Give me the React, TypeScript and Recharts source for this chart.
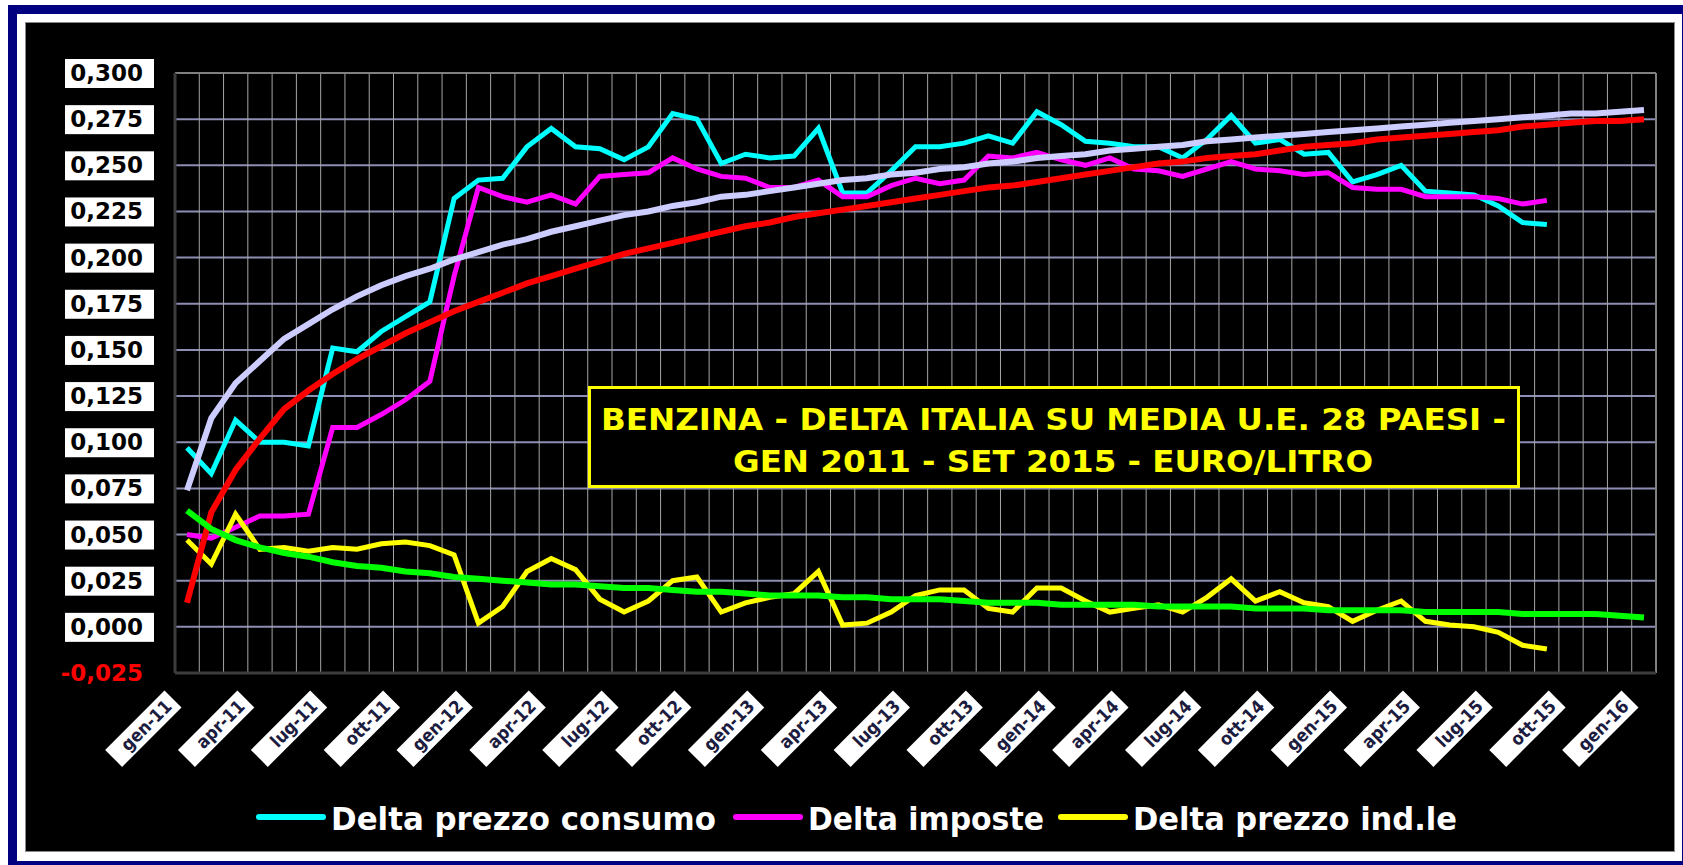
import { CartesianGrid, Line, LineChart, XAxis, YAxis } from "recharts";

// months on the category axis (gen-11 .. gen-16)
const MONTHS = ["gen", "feb", "mar", "apr", "mag", "giu", "lug", "ago", "set", "ott", "nov", "dic"];
const YEARS = ["11", "12", "13", "14", "15", "16"];

// Delta prezzo consumo, gen-11 .. set-15
const consumo = [
  0.097, 0.083, 0.112, 0.1, 0.1, 0.098, 0.151, 0.149, 0.16, 0.168, 0.176, 0.232,
  0.242, 0.243, 0.26, 0.27, 0.26, 0.259, 0.253, 0.26, 0.278, 0.275, 0.251, 0.256,
  0.254, 0.255, 0.27, 0.235, 0.235, 0.247, 0.26, 0.26, 0.262, 0.266, 0.262, 0.279,
  0.272, 0.263, 0.262, 0.26, 0.26, 0.254, 0.264, 0.277, 0.262, 0.264, 0.256, 0.257,
  0.241, 0.245, 0.25, 0.236, 0.235, 0.234, 0.228, 0.219, 0.218,
];

// Delta imposte
const imposte = [
  0.05, 0.048, 0.054, 0.06, 0.06, 0.061, 0.108, 0.108, 0.115, 0.123, 0.133, 0.19,
  0.238, 0.233, 0.23, 0.234, 0.229, 0.244, 0.245, 0.246, 0.254, 0.248, 0.244, 0.243,
  0.238, 0.238, 0.242, 0.233, 0.233, 0.239, 0.243, 0.24, 0.242, 0.255, 0.254, 0.257,
  0.253, 0.25, 0.254, 0.248, 0.247, 0.244, 0.248, 0.252, 0.248, 0.247, 0.245, 0.246,
  0.238, 0.237, 0.237, 0.233, 0.233, 0.233, 0.232, 0.229, 0.231,
];

// Delta prezzo ind.le
const industriale = [
  0.047, 0.034, 0.061, 0.042, 0.043, 0.041, 0.043, 0.042, 0.045, 0.046, 0.044, 0.039,
  0.002, 0.011, 0.03, 0.037, 0.031, 0.015, 0.008, 0.014, 0.025, 0.027, 0.008, 0.013,
  0.016, 0.018, 0.03, 0.001, 0.002, 0.008, 0.017, 0.02, 0.02, 0.01, 0.008, 0.021,
  0.021, 0.014, 0.008, 0.01, 0.012, 0.008, 0.016, 0.026, 0.014, 0.019, 0.013, 0.011,
  0.003, 0.009, 0.014, 0.003, 0.001, 0.0, -0.003, -0.01, -0.012,
];

// trend lines, gen-11 .. gen-16
const trendConsumo = [
  0.074, 0.113, 0.132, 0.144, 0.156, 0.164, 0.172, 0.179, 0.185, 0.19, 0.194, 0.199,
  0.203, 0.207, 0.21, 0.214, 0.217, 0.22, 0.223, 0.225, 0.228, 0.23, 0.233, 0.234,
  0.236, 0.238, 0.24, 0.242, 0.243, 0.245, 0.246, 0.248, 0.249, 0.251, 0.252, 0.254,
  0.255, 0.256, 0.258, 0.259, 0.26, 0.261, 0.263, 0.264, 0.265, 0.266, 0.267, 0.268,
  0.269, 0.27, 0.271, 0.272, 0.273, 0.274, 0.275, 0.276, 0.277, 0.278, 0.278, 0.279,
  0.28,
];

const trendImposte = [
  0.013, 0.062, 0.085, 0.102, 0.118, 0.128, 0.137, 0.145, 0.152, 0.159, 0.165, 0.171,
  0.176, 0.181, 0.186, 0.19, 0.194, 0.198, 0.202, 0.205, 0.208, 0.211, 0.214, 0.217,
  0.219, 0.222, 0.224, 0.226, 0.228, 0.23, 0.232, 0.234, 0.236, 0.238, 0.239, 0.241,
  0.243, 0.245, 0.247, 0.249, 0.251, 0.252, 0.254, 0.255, 0.256, 0.258, 0.26, 0.261,
  0.262, 0.264, 0.265, 0.266, 0.267, 0.268, 0.269, 0.271, 0.272, 0.273, 0.274, 0.274,
  0.275,
];

const trendIndustriale = [
  0.063, 0.053, 0.047, 0.043, 0.04, 0.038, 0.035, 0.033, 0.032, 0.03, 0.029, 0.027,
  0.026, 0.025, 0.024, 0.023, 0.023, 0.022, 0.021, 0.021, 0.02, 0.019, 0.019, 0.018,
  0.017, 0.017, 0.017, 0.016, 0.016, 0.015, 0.015, 0.015, 0.014, 0.013, 0.013, 0.013,
  0.012, 0.012, 0.012, 0.012, 0.011, 0.011, 0.011, 0.011, 0.01, 0.01, 0.01, 0.009,
  0.009, 0.009, 0.009, 0.008, 0.008, 0.008, 0.008, 0.007, 0.007, 0.007, 0.007, 0.006,
  0.005,
];

const yTicks = [
  -0.025, 0, 0.025, 0.05, 0.075, 0.1, 0.125, 0.15, 0.175, 0.2, 0.225, 0.25, 0.275, 0.3,
];

const categories = YEARS.flatMap((y) => MONTHS.map((m) => `${m}-${y}`)).slice(0, 61);

const data = categories.map((month, i) => ({
  month,
  consumo: consumo[i] ?? null,
  imposte: imposte[i] ?? null,
  industriale: industriale[i] ?? null,
  trendConsumo: trendConsumo[i],
  trendImposte: trendImposte[i],
  trendIndustriale: trendIndustriale[i],
}));

const legendItems = [
  { label: "Delta prezzo consumo", color: "#00ffff", x: 259, width: 385 },
  { label: "Delta imposte", color: "#ff00ff", x: 736, width: 236 },
  { label: "Delta prezzo ind.le", color: "#ffff00", x: 1061, width: 324 },
];

const BOLD_FONT = "'DejaVu Sans', Verdana, sans-serif";
const COND_FONT = "'DejaVu Sans Condensed', 'DejaVu Sans', sans-serif";

const fmt = (v: number) => v.toFixed(3).replace(".", ",");

function YTick({ x, y, payload }: any) {
  const neg = payload.value < 0;
  return (
    <g>
      {!neg && <rect x={x - 110} y={y - 14} width={89} height={29} fill="#ffffff" />}
      <text
        x={x - 32}
        y={y + 8}
        textAnchor="end"
        fontFamily={BOLD_FONT}
        fontWeight="bold"
        fontSize={23}
        fill={neg ? "#ff0000" : "#000000"}
      >
        {fmt(payload.value)}
      </text>
    </g>
  );
}

function XTick({ x, y, payload }: any) {
  return (
    <g transform={`translate(${x - 14},${y + 26}) rotate(-45)`}>
      <rect x={-84} y={-12} width={84} height={24} fill="#ffffff" />
      <text
        x={-6}
        y={6}
        textAnchor="end"
        fontFamily={COND_FONT}
        fontWeight="bold"
        fontSize={18}
        fill="#1c1c40"
      >
        {payload.value}
      </text>
    </g>
  );
}

export default function App() {
  return (
    <div
      style={{
        position: "absolute",
        left: 0,
        top: 0,
        width: 1683,
        height: 865,
        overflow: "hidden",
        background: "#ffffff",
      }}
    >
      <div style={{ position: "absolute", left: 8, top: 5, width: 1700, height: 880, background: "#000080" }} />
      <div style={{ position: "absolute", left: 17, top: 14, width: 1665, height: 847, background: "#ffffff" }} />
      <div
        style={{
          position: "absolute",
          left: 25,
          top: 22,
          width: 1648,
          height: 828,
          background: "#000000",
          border: "1px solid #8a8a8a",
        }}
      />
      <div style={{ position: "absolute", left: 0, top: 0 }}>
        <LineChart
          width={1683}
          height={865}
          data={data}
          margin={{ top: 73, right: 27, bottom: 42, left: 25 }}
        >
          <CartesianGrid vertical={false} stroke="#8e8eb4" strokeWidth={2} />
          <CartesianGrid
            horizontal={false}
            stroke="#a6a6a6"
            strokeWidth={1}
            verticalCoordinatesGenerator={({ offset }: any) =>
              Array.from({ length: categories.length + 1 }, (_, k) =>
                offset.left + (k * offset.width) / categories.length
              )
            }
          />
          <CartesianGrid
            stroke="#808080"
            strokeWidth={2}
            horizontalCoordinatesGenerator={({ offset }: any) => [offset.top]}
            verticalCoordinatesGenerator={({ offset }: any) => [offset.left + offset.width]}
          />
          <XAxis
            dataKey="month"
            height={150}
            interval={2}
            padding={{ left: 12, right: 12 }}
            tickSize={0}
            tickMargin={0}
            tickLine={false}
            axisLine={{ stroke: "#3c3c3c", strokeWidth: 3 }}
            tick={<XTick />}
          />
          <YAxis
            type="number"
            domain={[-0.025, 0.3]}
            ticks={yTicks}
            interval={0}
            width={150}
            tickSize={0}
            tickMargin={0}
            tickLine={false}
            axisLine={{ stroke: "#3c3c3c", strokeWidth: 3 }}
            tick={<YTick />}
          />
          <Line dataKey="consumo" stroke="#00ffff" strokeWidth={5} dot={false} isAnimationActive={false} />
          <Line dataKey="imposte" stroke="#ff00ff" strokeWidth={5} dot={false} isAnimationActive={false} />
          <Line dataKey="industriale" stroke="#ffff00" strokeWidth={5} dot={false} isAnimationActive={false} />
          <Line dataKey="trendConsumo" stroke="#ccccff" strokeWidth={6} dot={false} isAnimationActive={false} />
          <Line dataKey="trendImposte" stroke="#ff0000" strokeWidth={6} dot={false} isAnimationActive={false} />
          <Line dataKey="trendIndustriale" stroke="#00ff00" strokeWidth={6} dot={false} isAnimationActive={false} />
        </LineChart>
      </div>
      <svg
        width={1683}
        height={865}
        style={{ position: "absolute", left: 0, top: 0, pointerEvents: "none" }}
      >
        <rect x={589.5} y={387.5} width={929} height={99} fill="#000000" stroke="#ffff00" strokeWidth={3} />
        <text
          x={601}
          y={430}
          textLength={905}
          lengthAdjust="spacingAndGlyphs"
          fontFamily={COND_FONT}
          fontWeight="bold"
          fontSize={31}
          fill="#ffff00"
        >
          BENZINA - DELTA ITALIA SU MEDIA U.E. 28 PAESI -
        </text>
        <text
          x={733}
          y={472}
          textLength={640}
          lengthAdjust="spacingAndGlyphs"
          fontFamily={COND_FONT}
          fontWeight="bold"
          fontSize={31}
          fill="#ffff00"
        >
          GEN 2011 - SET  2015 - EURO/LITRO
        </text>
        {legendItems.map((item) => (
          <g key={item.label}>
            <line
              x1={item.x}
              x2={item.x + 64}
              y1={817}
              y2={817}
              stroke={item.color}
              strokeWidth={6}
              strokeLinecap="round"
            />
            <text
              x={item.x + 72}
              y={830}
              textLength={item.width}
              lengthAdjust="spacingAndGlyphs"
              fontFamily={COND_FONT}
              fontWeight="bold"
              fontSize={32}
              fill="#ffffff"
            >
              {item.label}
            </text>
          </g>
        ))}
      </svg>
    </div>
  );
}
